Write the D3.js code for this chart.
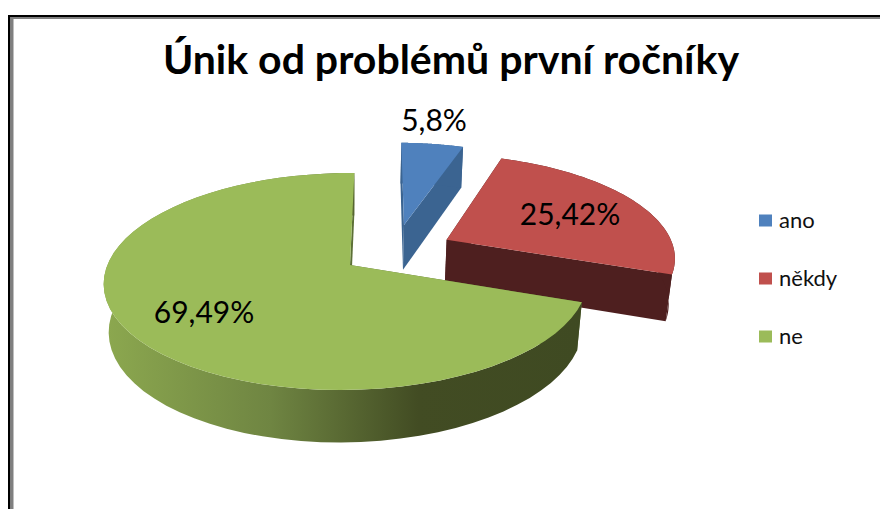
<!DOCTYPE html>
<html>
<head>
<meta charset="utf-8">
<script src="https://cdn.jsdelivr.net/npm/d3@7"></script>
<style>
  html, body { margin: 0; padding: 0; background: #fff; }
  text { font-family: Lato, "Open Sans", sans-serif; }
</style>
</head>
<body>
<div class="chart"></div>
<script>
// values
const categories = ["ano", "někdy", "ne"];
const values = [5.08, 25.42, 69.49];
const valueLabels = ["5,8%", "25,42%", "69,49%"];   // 5,8 is how the original prints it
const chartTitle = "Únik od problémů první ročníky";

const w = 880, h = 509;
const colors = ["#4f81bd", "#c0504d", "#9bbb59"];
const cutColors = ["#3b6491", "#4e1f1f", "#5c7036"];
const explode = [[0.232, 0.403], [0.417, 0.248], [0, 0]];   // pulled out slices, in pie radii
const labelPos = [[434, 131], [570, 225], [204, 323]];

const svg = d3.select(".chart").append("svg")
  .attr("width", w).attr("height", h)
  .style("display", "block");

// frame of the pasted picture
svg.append("rect").attr("x", 8).attr("y", 15).attr("width", w).attr("height", 2).attr("fill", "#000");
svg.append("rect").attr("x", 8).attr("y", 15).attr("width", 2.5).attr("height", h).attr("fill", "#000");
svg.append("rect").attr("x", 10.5).attr("y", 17).attr("width", w).attr("height", 2).attr("fill", "#808080");
svg.append("rect").attr("x", 10.5).attr("y", 17).attr("width", 3).attr("height", h).attr("fill", "#808080");

// green side wall gets lighter to the left
const grad = svg.append("defs").append("linearGradient")
  .attr("id", "wallGreen").attr("gradientUnits", "userSpaceOnUse")
  .attr("x1", 104).attr("x2", 580).attr("y1", 0).attr("y2", 0);
grad.append("stop").attr("offset", "0").attr("stop-color", "#8ca84f");
grad.append("stop").attr("offset", "0.35").attr("stop-color", "#6f8542");
grad.append("stop").attr("offset", "0.66").attr("stop-color", "#424c23");
grad.append("stop").attr("offset", "1").attr("stop-color", "#3f4a22");

// perspective of the 3d pie: u right, v back, z down, all in pie radii
function project(u, v, z) {
  let W = 1 + 0.152 * v + 0.015 * u + 0.02 * z;
  let X = 239 * u + 5 * v;
  let Y = -106 * v + 48 * z;
  return [350 + X / W, 265 + Y / W];
}

const pie = d3.pie().sort(null);
const slices = pie(values);
const line = d3.line();

slices.forEach((s, i) => {
  let [du, dv] = explode[i];
  let steps = d3.range(0, 61).map(k => s.startAngle + (s.endAngle - s.startAngle) * k / 60);
  let rim = z => steps.map(a => project(du + Math.sin(a), dv + Math.cos(a), z));
  let apex = z => project(du, dv, z);
  let top = rim(0), bottom = rim(1);
  let wallFill = i == 2 ? "url(#wallGreen)" : cutColors[i];

  // cut faces first, the top face paints over whatever is behind it
  [0, 60].forEach(k => {
    svg.append("path")
      .attr("d", line([apex(0), top[k], bottom[k], apex(1)]) + "Z")
      .attr("fill", cutColors[i]);
  });
  svg.append("path")
    .attr("d", line(top.concat(bottom.slice().reverse())) + "Z")
    .attr("fill", wallFill);
  svg.append("path")
    .attr("d", line([apex(0)].concat(top)) + "Z")
    .attr("fill", colors[i]);
});

svg.append("text")
  .attr("x", 451).attr("y", 74)
  .attr("text-anchor", "middle")
  .attr("font-size", 41).attr("font-weight", 700)
  .attr("fill", "#000")
  .text(chartTitle);

svg.selectAll(".valueLabel").data(valueLabels).enter().append("text")
  .attr("class", "valueLabel")
  .attr("x", (d, i) => labelPos[i][0])
  .attr("y", (d, i) => labelPos[i][1])
  .attr("text-anchor", "middle")
  .attr("font-size", 30)
  .attr("fill", "#000")
  .text(d => d);

const legendY = d3.scalePoint().domain(categories).range([220.5, 336.5]);
const legend = svg.selectAll(".legend").data(categories).enter().append("g")
  .attr("class", "legend")
  .attr("transform", d => "translate(759," + legendY(d) + ")");
legend.append("rect")
  .attr("y", -6).attr("width", 13).attr("height", 12)
  .attr("fill", (d, i) => colors[i]);
legend.append("text")
  .attr("x", 20).attr("y", 7)
  .attr("font-size", 22)
  .attr("fill", "#111")
  .text(d => d);
</script>
</body>
</html>
